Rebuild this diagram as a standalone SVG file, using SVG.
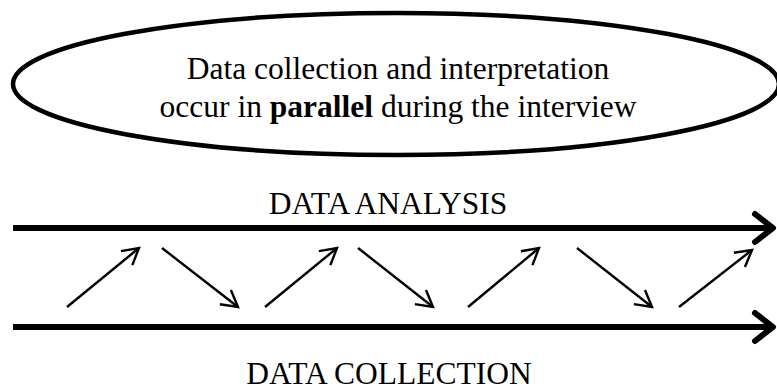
<svg xmlns="http://www.w3.org/2000/svg" width="777" height="390" viewBox="0 0 777 390">
<style>
text{font-family:"Liberation Serif","Times New Roman",serif;font-size:31.5px;fill:#000;text-anchor:middle}
.big{stroke:#000;stroke-width:6;fill:none}
.small{stroke:#000;stroke-width:2.4;fill:none}
</style>
<defs>
<marker id="bighead" markerUnits="userSpaceOnUse" markerWidth="30" markerHeight="40" refX="0" refY="0" viewBox="-22 -20 30 40" orient="auto" overflow="visible">
<path d="M-18,-14 L0,0 L-18,14" fill="none" stroke="#000" stroke-width="6" stroke-linejoin="round" stroke-linecap="round"/>
</marker>
<marker id="smallhead" markerUnits="userSpaceOnUse" markerWidth="30" markerHeight="30" refX="0" refY="0" viewBox="-20 -15 25 30" orient="auto" overflow="visible">
<path d="M-16,-9 L0,0 L-16,9" fill="none" stroke="#000" stroke-width="2.4" stroke-linejoin="miter" stroke-linecap="butt"/>
</marker>
</defs>
<g id="ellipse-node">
<ellipse cx="396" cy="84" rx="383" ry="71" fill="#fff" stroke="#000" stroke-width="4.5"/>
<text x="398" y="79" font-size="31.7">Data collection and interpretation</text>
<text x="398" y="117" font-size="31.7">occur in <tspan font-weight="bold">parallel</tspan> during the interview</text>
</g>
<g id="label-analysis">
<text x="388" y="214">DATA ANALYSIS</text>
</g>
<g id="label-collection">
<text x="389" y="384">DATA COLLECTION</text>
</g>
<g id="connectors">
<line class="big" x1="13" y1="228" x2="773" y2="228" marker-end="url(#bighead)"/>
<line class="big" x1="13" y1="327" x2="773" y2="327" marker-end="url(#bighead)"/>
<line class="small" x1="67" y1="307" x2="139" y2="248" marker-end="url(#smallhead)"/>
<line class="small" x1="162" y1="248" x2="238" y2="307" marker-end="url(#smallhead)"/>
<line class="small" x1="265" y1="307" x2="337" y2="248" marker-end="url(#smallhead)"/>
<line class="small" x1="358" y1="248" x2="433" y2="307" marker-end="url(#smallhead)"/>
<line class="small" x1="468" y1="307" x2="539" y2="248" marker-end="url(#smallhead)"/>
<line class="small" x1="577" y1="248" x2="652" y2="307" marker-end="url(#smallhead)"/>
<line class="small" x1="679" y1="307" x2="752" y2="250" marker-end="url(#smallhead)"/>
</g>
</svg>
